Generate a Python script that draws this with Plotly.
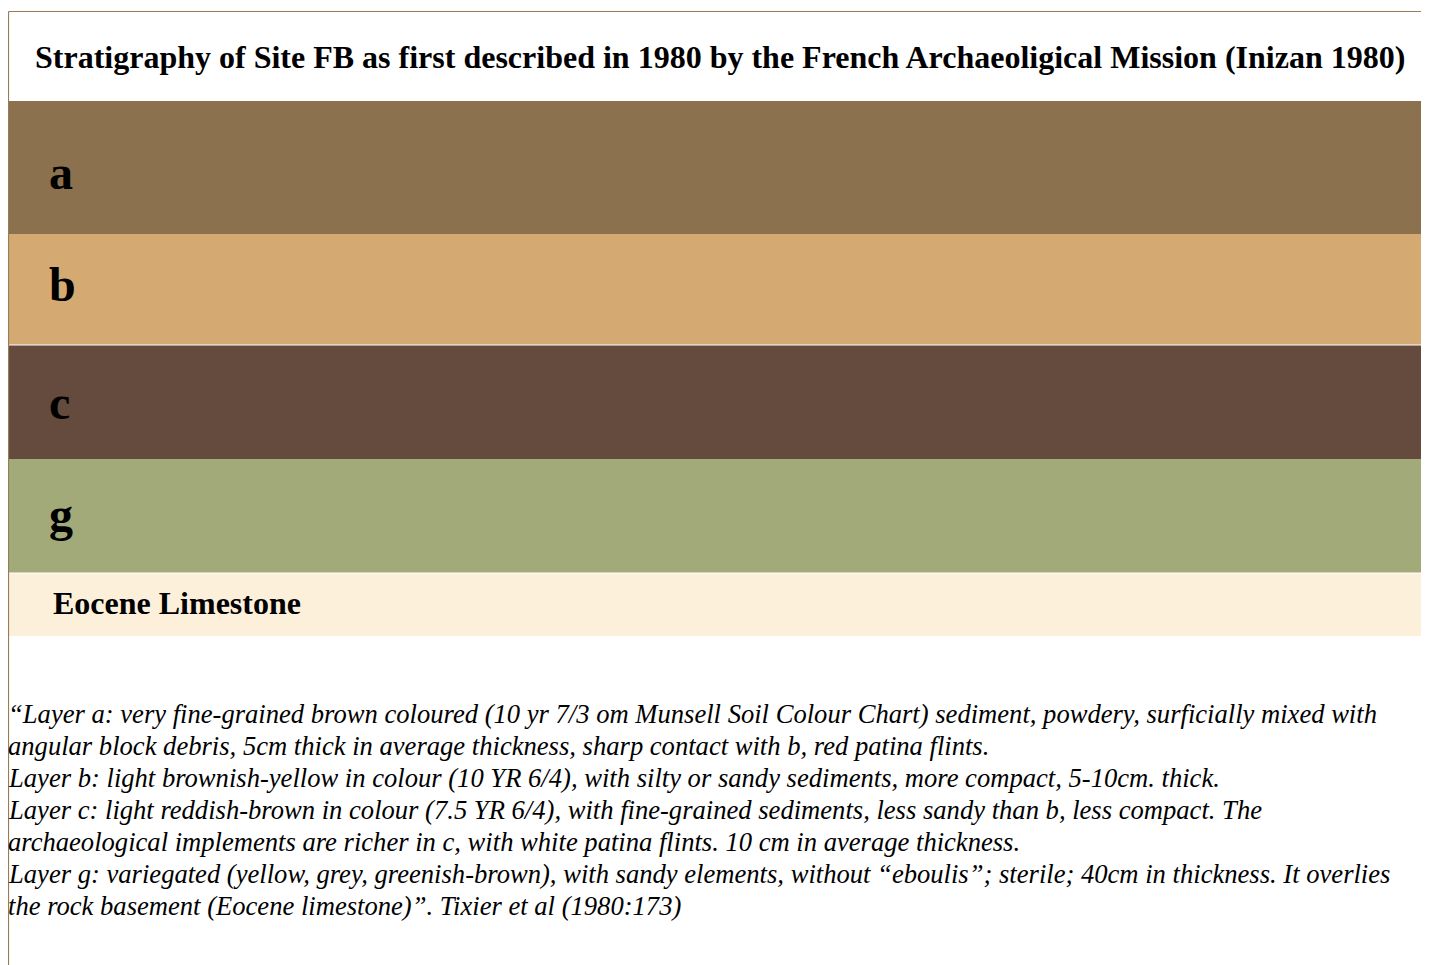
import plotly.graph_objects as go

# ---- data ----
layer_labels = ["a", "b", "c", "g", "Eocene Limestone"]
layer_heights = [133, 111, 114, 114, 63]          # displayed band heights (relative)
layer_colors = ["#8B714E", "#D5A972", "#654A3E", "#A3AA7A", "#FDF0DA"]
title_text = ("Stratigraphy of Site FB as first described in 1980 by the French "
              "Archaeoligical Mission (Inizan 1980)")
description_lines = [
    "“Layer a: very fine-grained brown coloured (10 yr 7/3 om Munsell Soil Colour Chart) sediment, powdery, surficially mixed with",
    "angular block debris, 5cm thick in average thickness, sharp contact with b, red patina flints.",
    "Layer b: light brownish-yellow in colour (10 YR 6/4), with silty or sandy sediments, more compact, 5-10cm. thick.",
    "Layer c: light reddish-brown in colour (7.5 YR 6/4), with fine-grained sediments, less sandy than b, less compact. The",
    "archaeological implements are richer in c, with white patina flints. 10 cm in average thickness.",
    "Layer g: variegated (yellow, grey, greenish-brown), with sandy elements, without “eboulis”; sterile; 40cm in thickness. It overlies",
    "the rock basement (Eocene limestone)”. Tixier et al (1980:173)",
]

# ---- style ----
label_sizes = [48, 48, 48, 48, 32]
label_x_px = [39, 39, 39, 39, 43]
label_nudge_px = [-5, 5, 0, 2, 2]

SERIF = "Liberation Serif, Times New Roman, serif"
FRAME = "#967D5A"

W, H = 1413, 957
T = 93
B = H - 628
PH = H - T - B  # plot height in px


def py(fig_y):
    """figure pixel y -> paper y"""
    return (H - B - fig_y) / PH


fig = go.Figure()
base = 0
centers = []
bounds = []
for lab, h, col in zip(layer_labels, layer_heights, layer_colors):
    fig.add_trace(go.Bar(
        x=["FB"], y=[h], base=[base], width=[1.0],
        marker=dict(color=col, line=dict(width=0)),
        name=lab, showlegend=False, hoverinfo="skip",
    ))
    centers.append(base + h / 2)
    base += h
    bounds.append(base)
total = base

# thin white separators above the c band and the limestone
for idx in (1, 3):
    fig.add_shape(type="line", xref="paper", yref="y", x0=0, x1=1,
                  y0=bounds[idx], y1=bounds[idx],
                  line=dict(color="white", width=1.2), layer="above")

for lab, c, s, xp, nd in zip(layer_labels, centers, label_sizes, label_x_px, label_nudge_px):
    fig.add_annotation(
        x=xp / W, xref="paper", y=c, yref="y", yshift=nd,
        text=f"<b>{lab}</b>", showarrow=False, xanchor="left", yanchor="middle",
        font=dict(family=SERIF, size=s, color="black"),
    )

# title
fig.add_annotation(
    x=0.5, xref="paper", y=py(49), yref="paper", xshift=5,
    text=f"<b>{title_text}</b>", showarrow=False, xanchor="center", yanchor="middle",
    font=dict(family=SERIF, size=32, color="black"),
)

# description, one line per annotation with 32px spacing
for i, line in enumerate(description_lines):
    fig.add_annotation(
        x=0.0, xref="paper", y=py(706 + 32 * i), yref="paper", xshift=-2,
        text=f"<i>{line}</i>", showarrow=False,
        xanchor="left", yanchor="middle", align="left",
        font=dict(family=SERIF, size=26.6, color="black"),
    )

# frame lines
fig.add_shape(type="line", xref="paper", yref="paper",
              x0=0.5 / W, x1=1.0, y0=py(3.5), y1=py(3.5),
              line=dict(color=FRAME, width=1.2), layer="above")
fig.add_shape(type="line", xref="paper", yref="paper",
              x0=0.5 / W, x1=0.5 / W, y0=py(3.5), y1=py(H + 10),
              line=dict(color=FRAME, width=1.2), layer="above")

fig.update_layout(
    width=W, height=H,
    margin=dict(l=0, r=0, t=T, b=B, pad=0),
    paper_bgcolor="white", plot_bgcolor="white",
    barmode="overlay", bargap=0,
    xaxis=dict(visible=False, range=[-0.5, 0.5], fixedrange=True),
    yaxis=dict(visible=False, range=[total, 0], fixedrange=True),
)

fig.write_html("out.html")
